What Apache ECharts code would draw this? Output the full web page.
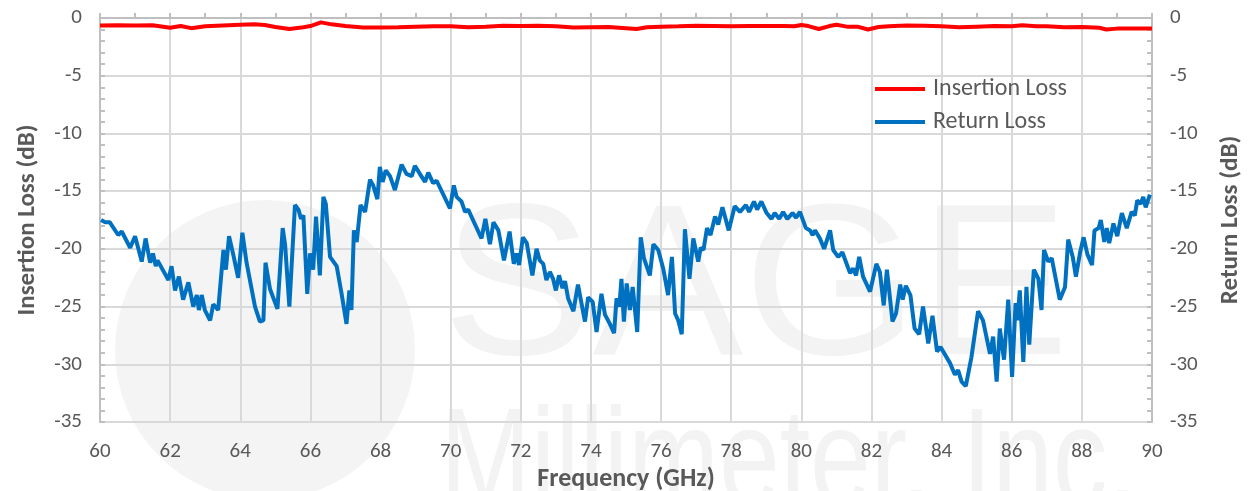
<!DOCTYPE html>
<html>
<head>
<meta charset="utf-8">
<title>Insertion / Return Loss</title>
<script src="https://cdn.jsdelivr.net/npm/echarts@6/dist/echarts.min.js"></script>
<style>
  html, body { margin: 0; padding: 0; background: #fff; }
  #chart { width: 1252px; height: 491px; }
</style>
</head>
<body>
<div id="chart"></div>
<script>
// axis ticks
var freqTicks = [60, 62, 64, 66, 68, 70, 72, 74, 76, 78, 80, 82, 84, 86, 88, 90];
var dbTicks = [-35, -30, -25, -20, -15, -10, -5, 0];

// Insertion Loss (red)
var ilFreq = [60, 60.5, 61, 61.5, 62, 62.3, 62.6, 63, 63.5, 64, 64.4, 64.7, 65, 65.4, 65.8, 66, 66.3, 66.6, 67, 67.5,
  68, 68.5, 69, 69.5, 70, 70.5, 71, 71.5, 72, 72.5, 73, 73.5, 74, 74.5, 75, 75.3, 75.6, 76, 76.5, 77,
  77.5, 78, 78.5, 79, 79.5, 79.8, 80, 80.2, 80.5, 80.8, 81, 81.3, 81.6, 81.9, 82.2, 82.5, 83, 83.5, 84, 84.5,
  85, 85.5, 86, 86.3, 86.7, 87, 87.5, 88, 88.5, 88.7, 89, 89.5, 90];
var ilDb = [-0.65, -0.62, -0.66, -0.62, -0.85, -0.7, -0.88, -0.72, -0.65, -0.58, -0.55, -0.6, -0.78, -0.95, -0.8, -0.7, -0.38, -0.55, -0.7, -0.82,
  -0.82, -0.8, -0.75, -0.72, -0.72, -0.8, -0.75, -0.68, -0.7, -0.68, -0.72, -0.82, -0.8, -0.78, -0.88, -0.95, -0.8, -0.75, -0.72, -0.68,
  -0.7, -0.72, -0.7, -0.7, -0.7, -0.72, -0.6, -0.7, -0.95, -0.7, -0.58, -0.75, -0.75, -1.0, -0.78, -0.72, -0.65, -0.68, -0.72, -0.8,
  -0.75, -0.7, -0.72, -0.62, -0.72, -0.72, -0.8, -0.78, -0.85, -1.0, -0.92, -0.92, -0.92];

// Return Loss (blue)
var rlFreq = [60.03, 60.15, 60.28, 60.52, 60.62, 60.86, 61.0, 61.19, 61.3, 61.43, 61.51, 61.59, 61.64, 61.95, 62.04, 62.14, 62.25, 62.37, 62.52, 62.66,
  62.76, 62.82, 62.9, 62.99, 63.14, 63.23, 63.37, 63.52, 63.59, 63.68, 63.8, 63.94, 64.06, 64.18, 64.42, 64.56, 64.66, 64.72, 64.85, 65.06,
  65.21, 65.28, 65.4, 65.56, 65.66, 65.73, 65.8, 65.91, 65.99, 66.08, 66.16, 66.27, 66.37, 66.44, 66.56, 66.75, 66.89, 67.03, 67.11, 67.17,
  67.24, 67.32, 67.43, 67.56, 67.7, 67.79, 67.91, 67.98, 68.06, 68.15, 68.27, 68.41, 68.6, 68.74, 68.89, 68.98, 69.12, 69.27, 69.36, 69.5,
  69.6, 69.98, 70.09, 70.17, 70.31, 70.41, 70.5, 70.88, 70.99, 71.12, 71.22, 71.36, 71.52, 71.68, 71.8, 71.88, 71.95, 72.06, 72.17, 72.33,
  72.45, 72.54, 72.64, 72.73, 72.83, 72.92, 73.0, 73.09, 73.19, 73.26, 73.35, 73.5, 73.63, 73.83, 73.92, 74.05, 74.16, 74.3, 74.4, 74.54,
  74.66, 74.73, 74.81, 74.87, 74.94, 75.02, 75.11, 75.19, 75.32, 75.42, 75.51, 75.68, 75.78, 75.92, 76.06, 76.2, 76.31, 76.4, 76.49, 76.59,
  76.68, 76.81, 76.92, 77.06, 77.13, 77.21, 77.31, 77.41, 77.54, 77.63, 77.75, 77.93, 78.1, 78.25, 78.42, 78.51, 78.65, 78.74, 78.86, 79.01,
  79.15, 79.24, 79.37, 79.48, 79.6, 79.75, 79.85, 79.96, 80.13, 80.25, 80.32, 80.39, 80.53, 80.65, 80.82, 80.91, 81.05, 81.17, 81.39, 81.48,
  81.56, 81.65, 81.76, 81.96, 82.14, 82.24, 82.35, 82.44, 82.6, 82.7, 82.82, 82.89, 82.98, 83.11, 83.23, 83.36, 83.47, 83.62, 83.74, 83.87,
  83.97, 84.24, 84.38, 84.47, 84.57, 84.69, 84.85, 85.04, 85.18, 85.38, 85.47, 85.57, 85.66, 85.78, 85.9, 86.01, 86.11, 86.16, 86.23, 86.33,
  86.42, 86.5, 86.63, 86.76, 86.85, 86.92, 87.04, 87.14, 87.37, 87.52, 87.61, 87.74, 87.83, 87.95, 88.05, 88.16, 88.29, 88.36, 88.48, 88.54,
  88.64, 88.71, 88.78, 88.9, 89.01, 89.14, 89.28, 89.42, 89.51, 89.58, 89.68, 89.75, 89.82, 89.94];
var rlDb = [-17.5, -17.7, -17.7, -18.8, -18.5, -19.9, -18.9, -21.1, -19.1, -21.2, -20.4, -21.5, -21.0, -22.7, -21.5, -23.6, -22.4, -24.4, -22.9, -25.0,
  -24.0, -25.3, -24.0, -25.3, -26.2, -24.8, -25.3, -20.1, -21.8, -18.9, -20.5, -22.5, -18.6, -21.2, -25.0, -26.3, -26.2, -21.2, -23.5, -25.2,
  -18.2, -19.7, -25.0, -16.2, -16.6, -17.4, -17.1, -23.9, -20.4, -21.8, -17.2, -22.3, -15.5, -16.1, -20.7, -21.5, -23.9, -26.5, -23.6, -25.3,
  -18.4, -19.4, -16.2, -16.8, -14.0, -14.5, -15.7, -12.9, -14.2, -13.2, -13.7, -14.9, -12.7, -13.5, -13.7, -12.8, -13.5, -14.2, -13.4, -14.3,
  -14.1, -16.5, -14.5, -15.5, -15.9, -16.8, -16.6, -19.1, -17.4, -19.6, -17.7, -18.4, -21.0, -18.5, -21.3, -20.4, -21.4, -19.0, -19.5, -22.3,
  -20.0, -21.0, -21.3, -22.7, -22.0, -22.6, -23.6, -22.3, -23.4, -22.8, -24.3, -25.4, -23.1, -26.3, -24.2, -24.6, -27.2, -23.9, -25.7, -26.5,
  -27.3, -24.3, -25.0, -22.6, -26.3, -23.0, -25.3, -23.3, -27.2, -19.0, -20.8, -22.3, -19.6, -20.1, -21.7, -24.0, -20.7, -25.6, -26.2, -27.4,
  -18.3, -22.6, -19.1, -21.1, -19.9, -20.1, -18.2, -18.8, -17.2, -17.9, -16.4, -18.4, -16.3, -16.8, -16.2, -16.8, -15.9, -16.6, -15.9, -16.9,
  -17.4, -16.9, -17.4, -16.8, -17.4, -16.9, -17.3, -16.8, -18.2, -18.4, -18.8, -18.4, -19.1, -20.0, -18.4, -20.1, -20.7, -20.3, -22.1, -21.7,
  -22.3, -20.7, -22.4, -23.7, -21.3, -22.0, -24.9, -21.8, -26.3, -25.6, -23.1, -24.4, -23.2, -24.0, -26.9, -27.4, -25.0, -28.2, -25.8, -28.9,
  -28.5, -29.9, -30.9, -30.5, -31.5, -31.9, -29.4, -25.4, -26.2, -29.1, -27.6, -31.5, -26.9, -29.6, -24.4, -31.1, -24.7, -26.2, -23.6, -29.8,
  -23.3, -28.3, -21.8, -22.6, -25.3, -20.1, -21.1, -20.8, -24.4, -23.3, -19.2, -20.7, -22.4, -20.3, -19.0, -20.5, -21.4, -18.4, -18.2, -17.5,
  -19.4, -18.2, -19.5, -17.8, -18.9, -16.9, -18.2, -16.8, -17.1, -15.8, -16.1, -15.5, -16.4, -15.3];

var FONT = 'Carlito, "Liberation Sans Narrow", "Noto Sans", sans-serif';
var TXT = '#595959';

function zip(xs, ys) {
  return xs.map(function (x, i) { return [x, ys[i]]; });
}

var myChart = echarts.init(document.getElementById('chart'), null, { renderer: 'canvas' });

function yAxisCfg(name, pos) {
  return {
    type: 'value',
    position: pos,
    name: name,
    nameLocation: 'middle',
    nameRotate: 90,
    nameGap: pos === 'left' ? 60 : 66,
    nameTextStyle: { fontFamily: FONT, fontSize: 25, fontWeight: 'bold', color: TXT },
    min: dbTicks[0],
    max: dbTicks[dbTicks.length - 1],
    interval: 5,
    axisLine: { show: true, lineStyle: { color: '#bfbfbf', width: 2 } },
    axisTick: { show: true, inside: true, length: 5, lineStyle: { color: '#bfbfbf', width: 2 } },
    minorTick: { show: true, splitNumber: 5, length: 5, lineStyle: { color: '#bfbfbf', width: 2 } },
    axisLabel: { fontFamily: FONT, fontSize: 21, color: TXT, margin: 18 },
    splitLine: { show: pos === 'left', lineStyle: { color: '#d9d9d9', width: 2 } }
  };
}

var option = {
  animation: false,
  backgroundColor: '#fff',
  grid: { left: 100, right: 100, top: 18, bottom: 69, outerBoundsMode: 'none' },
  // faint company watermark behind the plot
  graphic: [
    { type: 'circle', z: -10, shape: { cx: 265, cy: 350, r: 150 }, style: { fill: '#f4f4f4' } },
    { type: 'text', z: -10, x: 442, y: 402, scaleX: 1.05, style: { text: 'SAGE', font: '215px "Liberation Sans"', fill: '#f3f3f3', textVerticalAlign: 'bottom' } },
    { type: 'text', z: -10, x: 440, y: 396, scaleX: 0.78, style: { text: 'Millimeter, Inc.', font: '140px "Liberation Sans"', fill: '#f3f3f3', textVerticalAlign: 'top' } }
  ],
  legend: {
    orient: 'vertical',
    left: 870,
    top: 72,
    itemWidth: 50,
    itemHeight: 4,
    itemGap: 9,
    icon: 'rect',
    textStyle: { fontFamily: FONT, fontSize: 24, color: TXT, padding: [0, 0, 0, 3] },
    data: ['Insertion Loss', 'Return Loss']
  },
  xAxis: {
    type: 'value',
    name: 'Frequency (GHz)',
    nameLocation: 'middle',
    nameGap: 42,
    nameTextStyle: { fontFamily: FONT, fontSize: 26, fontWeight: 'bold', color: TXT },
    min: freqTicks[0],
    max: freqTicks[freqTicks.length - 1],
    interval: 2,
    axisLine: { show: true, lineStyle: { color: '#bfbfbf', width: 2 } },
    axisTick: { show: true, inside: true, length: 5, lineStyle: { color: '#bfbfbf', width: 2 } },
    minorTick: { show: true, splitNumber: 2, length: 5, lineStyle: { color: '#bfbfbf', width: 2 } },
    axisLabel: { fontFamily: FONT, fontSize: 21, color: TXT, margin: 19 },
    splitLine: { show: true, lineStyle: { color: '#d9d9d9', width: 2 } }
  },
  yAxis: [yAxisCfg('Insertion Loss (dB)', 'left'), yAxisCfg('Return Loss (dB)', 'right')],
  series: [
    {
      name: 'Insertion Loss',
      type: 'line',
      yAxisIndex: 0,
      showSymbol: false,
      symbol: 'none',
      color: '#ff0000',
      lineStyle: { color: '#ff0000', width: 4 },
      data: zip(ilFreq, ilDb)
    },
    {
      name: 'Return Loss',
      type: 'line',
      yAxisIndex: 1,
      showSymbol: false,
      symbol: 'none',
      color: '#0070c0',
      lineStyle: { color: '#0070c0', width: 4 },
      data: zip(rlFreq, rlDb)
    }
  ]
};

myChart.setOption(option);
</script>
</body>
</html>
